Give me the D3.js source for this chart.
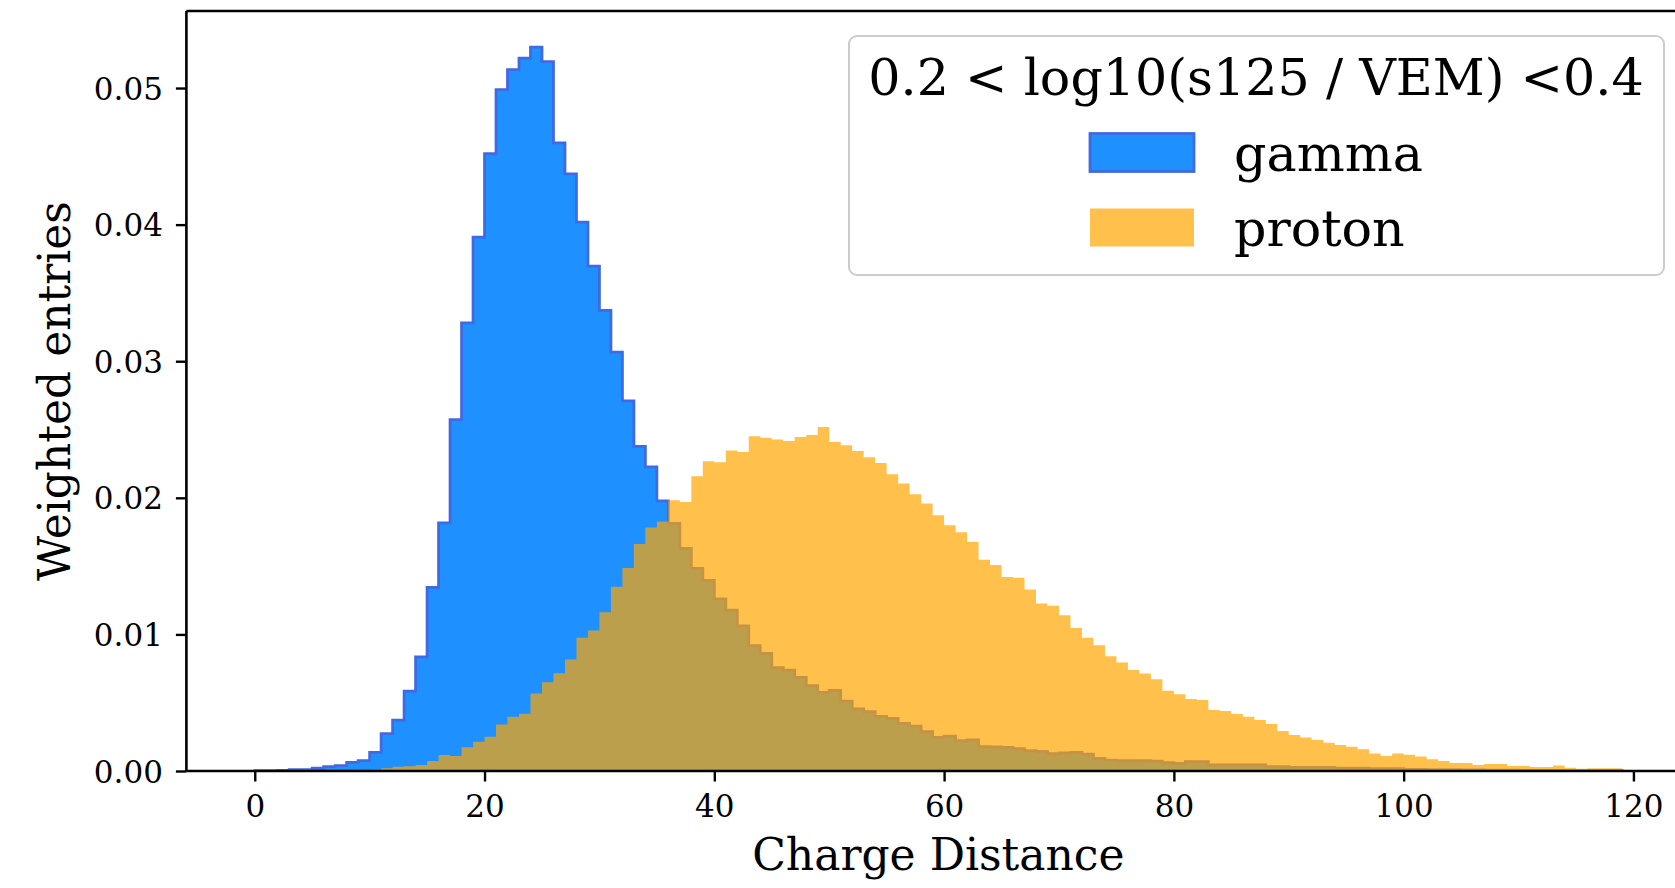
<!DOCTYPE html>
<html>
<head>
<meta charset="utf-8">
<script src="https://cdn.jsdelivr.net/npm/d3@7"></script>
<style>
  html, body { margin: 0; padding: 0; background: #fff; }
  svg { display: block; }
  text { font-family: "DejaVu Serif", serif; fill: #000; }
</style>
</head>
<body>
<svg id="chart" width="1675" height="888"></svg>
<script>
// ---- data (bin width 1, bins start at 0) ----
const binEdges = d3.range(0, 120); // 0..119 edges -> 119 bins
const gammaValues = [
  0.00002,0.00003,0.00005,0.0001,0.0001,0.0002,0.00032,0.00039,0.00063,0.00076,
  0.00137,0.00273,0.00373,0.00585,0.00836,0.01344,0.01816,0.02573,0.0328,0.03909,
  0.04519,0.04989,0.05135,0.05218,0.05299,0.05194,0.04599,0.04372,0.04018,0.03696,
  0.03372,0.03067,0.02709,0.02377,0.02226,0.01977,0.01812,0.01629,0.01483,0.01395,
  0.0126,0.01178,0.01063,0.00917,0.00861,0.00756,0.00739,0.00685,0.00624,0.00576,
  0.0059,0.00512,0.00454,0.00434,0.004,0.00385,0.00349,0.00329,0.00288,0.00246,
  0.00256,0.00222,0.00227,0.00178,0.00176,0.00173,0.00163,0.00149,0.00144,0.00127,
  0.00132,0.00137,0.00124,0.00093,0.0008,0.00075,0.00075,0.00075,0.00072,0.00061,
  0.00056,0.00068,0.00068,0.00044,0.00044,0.00044,0.00044,0.00044,0.00032,0.00032,
  0.00027,0.00027,0.00027,0.00027,0.0002,0.0002,0.0002,0.00018,0.00018,0.00018,
  0.00012,0.00012,0.0001,0.0001,0.00009,0.00008,0.00008,0.00007,0.00006,0.00006,
  0.00005,0.00005,0.00004,0.00004,0.00003,0.00003,0.00003,0.00002,0.00002
];
const protonValues = [
  0.00001,0.00001,0.00002,0.00002,0.00003,0.00003,0.00004,0.00005,0.00006,0.00008,
  0.0001,0.0002,0.00032,0.00034,0.00044,0.00073,0.00117,0.0011,0.00173,0.00215,
  0.00251,0.00341,0.00397,0.00419,0.00568,0.00649,0.00715,0.00817,0.00975,0.01029,
  0.01163,0.01348,0.01487,0.01661,0.01783,0.01827,0.01982,0.0197,0.02158,0.02268,
  0.0226,0.02346,0.02336,0.02451,0.02439,0.02426,0.02416,0.02446,0.0246,0.02519,
  0.02409,0.02385,0.02343,0.02297,0.02255,0.02173,0.02105,0.02026,0.01958,0.01873,
  0.018,0.01748,0.01677,0.01546,0.01509,0.01421,0.01414,0.01329,0.01227,0.01209,
  0.01141,0.01046,0.00975,0.0092,0.00841,0.00795,0.00739,0.00714,0.00671,0.00588,
  0.00561,0.00527,0.00519,0.00446,0.00439,0.00417,0.00397,0.00373,0.00344,0.00293,
  0.00263,0.00246,0.00227,0.00207,0.0019,0.00178,0.00159,0.00129,0.0011,0.00129,
  0.00119,0.00107,0.00086,0.00073,0.00059,0.00059,0.00044,0.00051,0.00051,0.00037,
  0.00037,0.00029,0.00029,0.00041,0.00024,0.00017,0.0002,0.0002,0.0002
];
const xTicks = [0, 20, 40, 60, 80, 100, 120];
const yTicks = [0.00, 0.01, 0.02, 0.03, 0.04, 0.05];
const seriesNames = ["gamma", "proton"];
const legendTitle = "0.2 < log10(s125 / VEM) <0.4";
const xLabel = "Charge Distance";
const yLabel = "Weighted entries";

// ---- layout ----
const svg = d3.select("#chart");
const plot = { left: 186.4, right: 1690.3, top: 11, bottom: 771 };
const xMin = binEdges[0], xMax = binEdges[binEdges.length - 1];
const xPad = (xMax - xMin) * 0.05;
const x = d3.scaleLinear().domain([xMin - xPad, xMax + xPad]).range([plot.left, plot.right]);
const yMaxData = d3.max(gammaValues.concat(protonValues));
const y = d3.scaleLinear().domain([0, yMaxData * 1.05]).range([plot.bottom, plot.top]);

svg.append("defs").append("clipPath").attr("id", "clip")
  .append("rect").attr("x", plot.left).attr("y", plot.top)
  .attr("width", plot.right - plot.left).attr("height", plot.bottom - plot.top);

function stepPoints(vals) {
  const pts = vals.map((v, i) => [binEdges[i], v]);
  pts.push([binEdges[vals.length], vals[vals.length - 1]]);
  return pts;
}
const area = d3.area().curve(d3.curveStepAfter)
  .x(d => x(d[0])).y0(y(0)).y1(d => y(d[1]));

const g = svg.append("g").attr("clip-path", "url(#clip)");
g.append("path").datum(stepPoints(gammaValues))
  .attr("d", area)
  .attr("fill", "#1E90FF")
  .attr("stroke", "#4169E1")
  .attr("stroke-width", 2.8)
  .attr("stroke-linejoin", "miter");
g.append("path").datum(stepPoints(protonValues))
  .attr("d", area)
  .attr("fill", "#FFA500")
  .attr("fill-opacity", 0.7);

// ---- axes ----
const xAxis = d3.axisBottom(x).tickValues(xTicks).tickSize(10.5).tickPadding(13).tickFormat(d3.format("d"));
const yAxis = d3.axisLeft(y).tickValues(yTicks).tickSize(10.5).tickPadding(13).tickFormat(d3.format(".2f"));

const gx = svg.append("g").attr("transform", `translate(0,${plot.bottom})`).call(xAxis);
const gy = svg.append("g").attr("transform", `translate(${plot.left},0)`).call(yAxis);
[gx, gy].forEach(ax => {
  ax.select(".domain").remove();
  ax.selectAll(".tick line").attr("stroke", "#000").attr("stroke-width", 2.4);
  ax.selectAll(".tick text").style("font-family", "DejaVu Serif").style("font-size", "31px").attr("fill", "#000");
});
gx.selectAll(".tick text").attr("dy", "0.71em");
gy.selectAll(".tick text").attr("dy", "0.36em");

// spines
const spine = svg.append("g").attr("stroke", "#000").attr("stroke-width", 2.6).attr("fill", "none");
spine.append("line").attr("x1", plot.left).attr("x2", plot.left).attr("y1", plot.top).attr("y2", plot.bottom);
spine.append("line").attr("x1", plot.left).attr("x2", plot.right).attr("y1", plot.bottom).attr("y2", plot.bottom);
spine.append("line").attr("x1", plot.left).attr("x2", plot.right).attr("y1", plot.top).attr("y2", plot.top);
spine.append("line").attr("x1", plot.right).attr("x2", plot.right).attr("y1", plot.top).attr("y2", plot.bottom);

// axis labels
svg.append("text").attr("x", (plot.left + plot.right) / 2).attr("y", 870)
  .attr("text-anchor", "middle").style("font-size", "44px").text(xLabel);
svg.append("text").attr("transform", `translate(70,${(plot.top + plot.bottom) / 2}) rotate(-90)`)
  .attr("text-anchor", "middle").style("font-size", "44px").text(yLabel);

// ---- legend ----
const lg = svg.append("g");
lg.append("rect").attr("x", 849).attr("y", 36).attr("width", 1664 - 849).attr("height", 275 - 36)
  .attr("rx", 8).attr("ry", 8)
  .attr("fill", "#fff").attr("fill-opacity", 0.8)
  .attr("stroke", "#cccccc").attr("stroke-width", 2);
lg.append("text").attr("x", 1256).attr("y", 95).attr("text-anchor", "middle")
  .style("font-size", "50.7px").text(legendTitle);
const legendItems = [
  { name: seriesNames[0], fill: "#1E90FF", opacity: 1, stroke: "#4169E1", y: 133.5 },
  { name: seriesNames[1], fill: "#FFA500", opacity: 0.7, stroke: "none", y: 208.5 }
];
legendItems.forEach(it => {
  lg.append("rect").attr("x", 1090).attr("y", it.y).attr("width", 104).attr("height", 38)
    .attr("fill", it.fill).attr("fill-opacity", it.opacity)
    .attr("stroke", it.stroke).attr("stroke-width", 2.8);
  lg.append("text").attr("x", 1234).attr("y", it.y + 37).style("font-size", "50.7px").text(it.name);
});
</script>
</body>
</html>
